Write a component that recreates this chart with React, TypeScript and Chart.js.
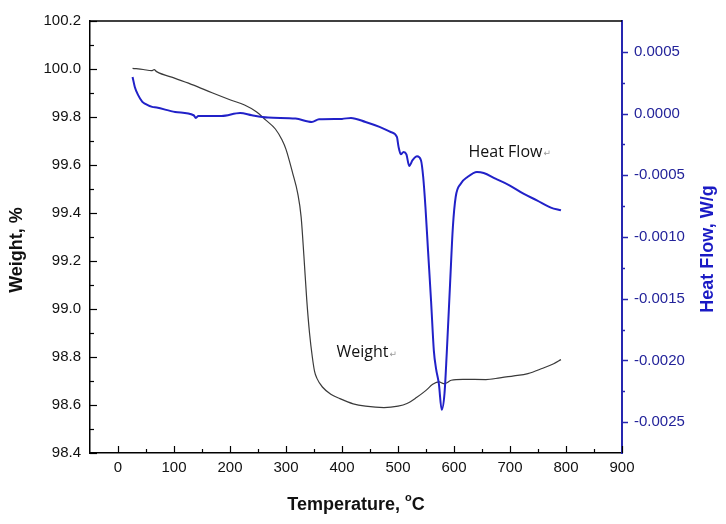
import { useEffect, useRef } from 'react';
import { Chart, registerables } from 'chart.js';

Chart.register(...registerables);

// ---- data ----
const weightTemps = [26, 45, 60, 64.6, 69, 102, 135, 168, 201, 226, 247, 264, 281, 293, 300, 312, 321, 327, 332, 337, 342, 347, 351, 355, 365, 380, 395, 420, 442, 475, 500, 516, 533, 550, 562, 574, 578, 583, 595, 616, 657, 682, 707, 732, 757, 778, 791];
const weightValues = [100.003, 99.998, 99.993, 99.997, 99.989, 99.961, 99.933, 99.901, 99.871, 99.85, 99.822, 99.787, 99.75, 99.704, 99.665, 99.565, 99.481, 99.384, 99.22, 99.04, 98.9, 98.8, 98.74, 98.712, 98.675, 98.645, 98.628, 98.605, 98.595, 98.589, 98.595, 98.606, 98.631, 98.661, 98.686, 98.696, 98.692, 98.689, 98.703, 98.707, 98.706, 98.713, 98.721, 98.731, 98.752, 98.772, 98.789];

const heatTemps = [26, 30, 36, 43.5, 48, 61, 69, 102, 135, 139, 143.5, 185, 218, 239, 268, 317, 346, 359, 400, 416, 442, 467, 487, 498, 501, 505, 510, 515, 520, 526, 534, 541, 545, 549, 553.6, 559, 564, 568, 573, 578, 583, 587, 593, 598, 603, 612, 624, 641, 653, 674, 699, 724, 748, 773, 791];
const heatValues = [0.000297, 0.000216, 0.000149, 0.000095, 0.000081, 0.000054, 0.000049, 0.0000135, -0.0000135, -0.000035, -0.000019, -0.000019, 0.000005, -0.0000135, -0.000032, -0.00004, -0.000068, -0.000046, -0.000043, -0.000035, -0.000068, -0.000108, -0.000149, -0.000189, -0.00027, -0.00033, -0.000311, -0.00033, -0.000424, -0.000378, -0.000346, -0.000378, -0.000514, -0.000757, -0.001108, -0.001514, -0.00192, -0.002068, -0.00219, -0.0024, -0.00227, -0.001946, -0.001378, -0.000919, -0.000676, -0.000568, -0.000514, -0.000473, -0.000481, -0.000527, -0.000581, -0.000649, -0.000703, -0.000762, -0.000784];

const xTicks = [0, 100, 200, 300, 400, 500, 600, 700, 800, 900];
const xMinorTicks = [50, 150, 250, 350, 450, 550, 650, 750, 850];
const weightTicks = [98.4, 98.6, 98.8, 99.0, 99.2, 99.4, 99.6, 99.8, 100.0, 100.2];
const weightMinorTicks = [98.5, 98.7, 98.9, 99.1, 99.3, 99.5, 99.7, 99.9, 100.1];
const heatTicks = [-0.0025, -0.002, -0.0015, -0.001, -0.0005, 0, 0.0005];
const heatMinorTicks = [-0.00225, -0.00175, -0.00125, -0.00075, -0.00025, 0.00025];

const xTitle = 'Temperature, ';
const xTitleSup = 'o';
const xTitleEnd = 'C';
const yTitle = 'Weight, %';
const y1Title = 'Heat Flow, W/g';
const heatLabel = 'Heat Flow';
const weightLabel = 'Weight';
const heatLabelPos = { x: 626, y: -0.000311 };
const weightLabelPos = { x: 390, y: 98.818 };

const FONT = "'Liberation Sans', Arial, sans-serif";
const BLUE_LINE = '#2121c8';
const BLUE_AXIS = '#2626b0';
const BLUE_TEXT = '#23239a';
const BLUE_TITLE = '#1a1ac4';

const decorPlugin = {
  id: 'decor',
  afterDraw(chart: any) {
    const { ctx, chartArea: a, scales } = chart;
    const sx = scales.x, sy = scales.y, sy1 = scales.y1;
    ctx.save();
    const line = (x1: number, y1: number, x2: number, y2: number) => {
      ctx.beginPath();
      ctx.moveTo(x1, y1);
      ctx.lineTo(x2, y2);
      ctx.stroke();
    };
    // top frame
    ctx.strokeStyle = '#000';
    ctx.lineWidth = 1.5;
    line(a.left, a.top, a.right, a.top);
    // x ticks (inward)
    ctx.lineWidth = 1.2;
    for (const v of xTicks) {
      const p = Math.round(sx.getPixelForValue(v)) + 0.5;
      line(p, a.bottom, p, a.bottom - 7);
    }
    for (const v of xMinorTicks) {
      const p = Math.round(sx.getPixelForValue(v)) + 0.5;
      line(p, a.bottom, p, a.bottom - 4);
    }
    // left y ticks (inward)
    for (const v of weightTicks) {
      const p = Math.round(sy.getPixelForValue(v)) + 0.5;
      line(a.left, p, a.left + 7, p);
    }
    for (const v of weightMinorTicks) {
      const p = Math.round(sy.getPixelForValue(v)) + 0.5;
      line(a.left, p, a.left + 4, p);
    }
    // right ticks (outward)
    ctx.strokeStyle = BLUE_AXIS;
    ctx.lineWidth = 1.5;
    for (const v of heatTicks) {
      const p = Math.round(sy1.getPixelForValue(v)) + 0.5;
      line(a.right, p, a.right + 6, p);
    }
    for (const v of heatMinorTicks) {
      const p = Math.round(sy1.getPixelForValue(v)) + 0.5;
      line(a.right, p, a.right + 3, p);
    }

    // axis titles
    ctx.textBaseline = 'middle';
    ctx.fillStyle = '#111';
    ctx.font = `bold 18px ${FONT}`;
    const w1 = ctx.measureText(xTitle).width;
    ctx.font = `bold 11px ${FONT}`;
    const w2 = ctx.measureText(xTitleSup).width;
    ctx.font = `bold 18px ${FONT}`;
    const w3 = ctx.measureText(xTitleEnd).width;
    const total = w1 + w2 + w3;
    const cx = (a.left + a.right) / 2;
    let tx = cx - total / 2;
    const ty = 505;
    ctx.textAlign = 'left';
    ctx.fillText(xTitle, tx, ty);
    tx += w1;
    ctx.font = `bold 11px ${FONT}`;
    ctx.fillText(xTitleSup, tx, ty - 7);
    tx += w2;
    ctx.font = `bold 18px ${FONT}`;
    ctx.fillText(xTitleEnd, tx, ty);

    ctx.textAlign = 'center';
    ctx.save();
    ctx.translate(17, 250);
    ctx.rotate(-Math.PI / 2);
    ctx.fillText(yTitle, 0, 0);
    ctx.restore();

    ctx.save();
    ctx.fillStyle = BLUE_TITLE;
    ctx.translate(708, 249);
    ctx.rotate(-Math.PI / 2);
    ctx.fillText(y1Title, 0, 0);
    ctx.restore();

    // annotations
    const drawNote = (text: string, px: number, py: number) => {
      ctx.textAlign = 'left';
      ctx.fillStyle = '#111';
      ctx.font = `16px 'Open Sans', sans-serif`;
      ctx.fillText(text, px, py);
      const w = ctx.measureText(text).width;
      ctx.fillStyle = '#999';
      ctx.font = `9px 'DejaVu Sans', sans-serif`;
      ctx.fillText('\u21B5', px + w + 1, py + 2);
    };
    drawNote(heatLabel, sx.getPixelForValue(heatLabelPos.x), sy1.getPixelForValue(heatLabelPos.y));
    drawNote(weightLabel, sx.getPixelForValue(weightLabelPos.x), sy.getPixelForValue(weightLabelPos.y));
    ctx.restore();
  },
};

export default function App() {
  const ref = useRef<HTMLCanvasElement | null>(null);
  useEffect(() => {
    if (!ref.current) return;
    const heatData = heatTemps.map((t, i) => ({ x: t, y: heatValues[i] }));
    const weightData = weightTemps.map((t, i) => ({ x: t, y: weightValues[i] }));
    const chart = new Chart(ref.current, {
      type: 'line',
      data: {
        datasets: [
          {
            label: 'Heat Flow',
            data: heatData,
            yAxisID: 'y1',
            borderColor: BLUE_LINE,
            borderWidth: 2,
            pointRadius: 0,
            cubicInterpolationMode: 'monotone',
            fill: false,
          },
          {
            label: 'Weight',
            data: weightData,
            yAxisID: 'y',
            borderColor: '#3a3a3a',
            borderWidth: 1.2,
            pointRadius: 0,
            cubicInterpolationMode: 'monotone',
            fill: false,
          },
        ],
      },
      options: {
        responsive: false,
        animation: false,
        layout: { padding: { top: 21, left: 0, right: 0, bottom: 0 } },
        plugins: { legend: { display: false }, tooltip: { enabled: false } },
        scales: {
          x: {
            type: 'linear',
            position: 'bottom',
            min: -50,
            max: 900,
            afterBuildTicks: (s: any) => {
              s.ticks = xTicks.map((v) => ({ value: v }));
            },
            afterFit: (s: any) => {
              s.height = 71;
            },
            grid: { display: false, drawTicks: false },
            border: { display: true, color: '#000', width: 1.5 },
            ticks: {
              padding: 6,
              color: '#111',
              font: { family: FONT, size: 15 },
              maxRotation: 0,
              autoSkip: false,
              callback: (v: any) => String(v),
            },
          },
          y: {
            type: 'linear',
            position: 'left',
            min: 98.4,
            max: 100.2,
            afterBuildTicks: (s: any) => {
              s.ticks = weightTicks.map((v) => ({ value: v }));
            },
            afterFit: (s: any) => {
              s.width = 90;
            },
            grid: { display: false, drawTicks: false },
            border: { display: true, color: '#000', width: 1.5 },
            ticks: {
              padding: 9,
              color: '#111',
              font: { family: FONT, size: 15 },
              autoSkip: false,
              callback: (v: any) => Number(v).toFixed(1),
            },
          },
          y1: {
            type: 'linear',
            position: 'right',
            min: -0.00275,
            max: 0.00075,
            afterBuildTicks: (s: any) => {
              s.ticks = heatTicks.map((v) => ({ value: v }));
            },
            afterFit: (s: any) => {
              s.width = 104;
            },
            grid: { display: false, drawTicks: false },
            border: { display: true, color: BLUE_AXIS, width: 2 },
            ticks: {
              padding: 12,
              color: BLUE_TEXT,
              font: { family: FONT, size: 15 },
              autoSkip: false,
              callback: (v: any) => Number(v).toFixed(4),
            },
          },
        },
      },
      plugins: [decorPlugin],
    } as any);
    return () => chart.destroy();
  }, []);
  return (
    <div style={{ position: 'fixed', left: 0, top: 0, width: 726, height: 524, background: '#fff' }}>
      <canvas ref={ref} width={726} height={524} style={{ display: 'block', width: 726, height: 524 }} />
    </div>
  );
}
